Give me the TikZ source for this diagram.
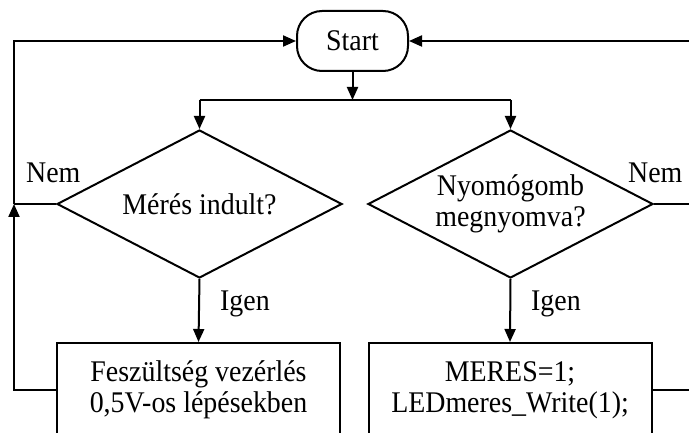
\documentclass[tikz,border=0pt]{standalone}
\usepackage{fontspec}
\setmainfont{Liberation Serif}[FakeStretch=0.93]
\usetikzlibrary{shapes.geometric,arrows.meta}
\begin{document}
\begin{tikzpicture}[x=1pt,y=-1pt,
  every node/.style={font=\fontsize{30}{31}\selectfont},
  line/.style={line width=2pt},
  arr/.style={line width=2pt,-{Triangle[length=13pt,width=11pt]}},
  startbox/.style={draw,line width=2pt,rounded corners=25pt,minimum width=111pt,minimum height=60pt,inner sep=0pt},
  decision/.style={draw,line width=2pt,diamond,aspect=1.92,minimum width=285pt,minimum height=148pt,inner sep=0pt,align=center},
  procbox/.style={draw,line width=2pt,rectangle,minimum width=283pt,minimum height=94pt,inner sep=0pt,align=center},
  lbl/.style={anchor=base west,inner sep=0pt}
]
\useasboundingbox (0,0) rectangle (689,433);
\node[startbox] (start) at (352.5,41) {Start};
\node[decision] (d1) at (199.5,204) {Mérés indult?};
\node[decision] (d2) at (510.5,204) {Nyomógomb\\megnyomva?};
\node[procbox] (b1) at (198.5,390) {Feszültség vezérlés\\0,5V-os lépésekben};
\node[procbox] (b2) at (510,390) {MERES=1;\\LEDmeres\_Write(1);};
\coordinate (split) at (352.5,100);
\coordinate (sl) at (199.5,100);
\coordinate (sr) at (510.5,100);
\coordinate (jl) at (14,204);
\coordinate (jr) at (710,204);
\draw[arr] (start.south) -- (split);
\draw[line] (sl) -- (sr);
\draw[arr] (sl) -- (d1.north);
\draw[arr] (sr) -- (d2.north);
\draw[arr] (d1.south) -- (b1.north);
\draw[arr] (d2.south) -- (b2.north);
\draw[line] (d1.west) -- (jl);
\draw[arr] (b1.west) -| (jl);
\draw[arr] (jl) |- (start.west);
\draw[line] (d2.east) -- (jr);
\draw[line] (b2.east) -| (jr);
\draw[arr] (jr) |- (start.east);
\node[lbl] (nem1) at (26,183) {Nem};
\node[lbl] (nem2) at (628,183) {Nem};
\node[lbl] (igen1) at (220,310) {Igen};
\node[lbl] (igen2) at (531,310) {Igen};
\end{tikzpicture}
\end{document}
